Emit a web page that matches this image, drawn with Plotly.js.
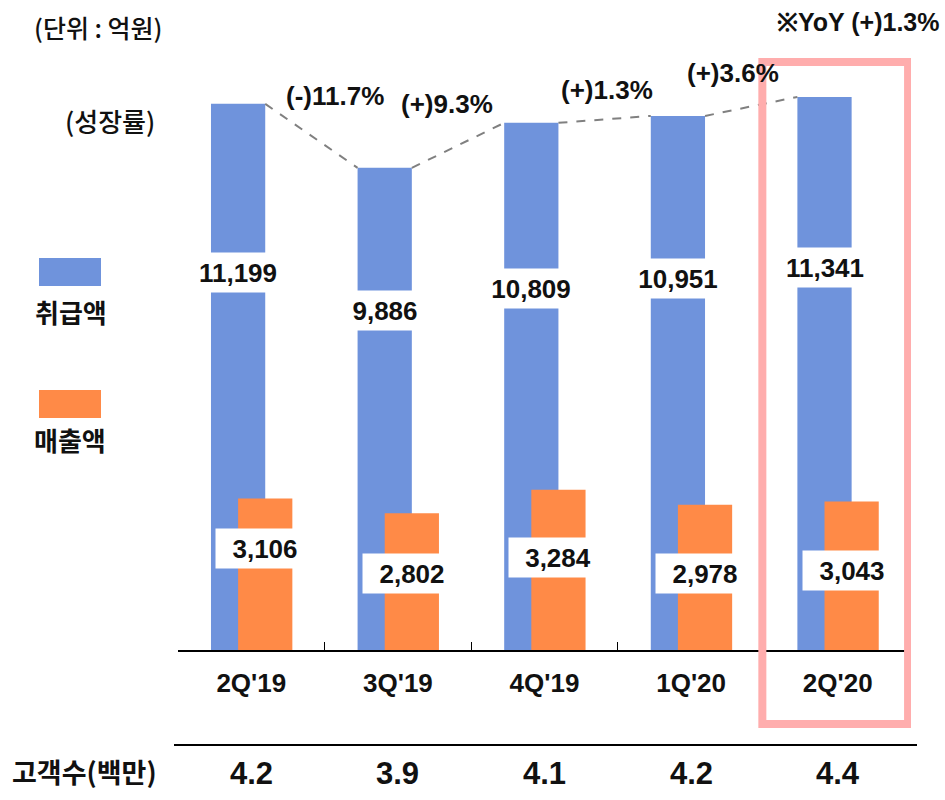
<!DOCTYPE html>
<html>
<head>
<meta charset="utf-8">
<script src="https://cdn.plot.ly/plotly-3.0.1.min.js"></script>
<style>html,body{margin:0;padding:0;background:#fff}#chart{width:945px;height:800px}</style>
</head>
<body>
<div id="chart"></div>
<script>
// ---- data ----
const quarters = ["2Q'19", "3Q'19", "4Q'19", "1Q'20", "2Q'20"];
const handling = [11199, 9886, 10809, 10951, 11341];   // 취급액
const sales = [3106, 2802, 3284, 2978, 3043];          // 매출액
const growth = ["(-)11.7%", "(+)9.3%", "(+)1.3%", "(+)3.6%"];
const yoyText = "※YoY (+)1.3%";
const customers = [4.2, 3.9, 4.1, 4.2, 4.4];           // 고객수(백만)

// ---- style / layout constants ----
const BLUE = '#6F93DC', ORANGE = '#FF8A47', PINK = '#FFADAD';
const ML = 178, MR = 34, MT = 0, MB = 150, W = 945, H = 800;
const PH = H - MT - MB;
const BAR_W = 0.37, BLUE_OFF = -0.275, ORANGE_OFF = -0.09;
const blueLabelPx = [272, 310, 288, 278, 267];
const orangeLabelPx = [548, 573, 557, 573, 570];
const growthX = [0.573, 1.337, 2.428, 3.288];
const growthPx = [96, 104, 90, 73];
const LATIN = 'Liberation Sans, Arial, sans-serif';
const KR = 'Noto Sans CJK KR, sans-serif';
const py = p => (H - MB - p) / PH;          // pixel y -> paper y
const pxX = p => (p - ML) / (W - ML - MR);  // pixel x -> paper x
const fmt = n => n.toLocaleString('en-US');

const idx = quarters.map((q, i) => i);

const traces = [
  {type: 'bar', x: quarters, y: handling, name: '취급액', marker: {color: BLUE},
   width: BAR_W, offset: BLUE_OFF, hoverinfo: 'skip'},
  {type: 'bar', x: quarters, y: sales, name: '매출액', marker: {color: ORANGE},
   width: BAR_W, offset: ORANGE_OFF, hoverinfo: 'skip'}
];

// dashed connector between tops of 취급액 bars
const lx = [], ly = [];
for (let i = 0; i < handling.length - 1; i++) {
  lx.push(idx[i] + BLUE_OFF + BAR_W, idx[i + 1] + BLUE_OFF, null);
  ly.push(handling[i], handling[i + 1], null);
}
traces.push({type: 'scatter', mode: 'lines', x: lx, y: ly, xaxis: 'x2', yaxis: 'y',
  line: {color: '#808080', width: 2, dash: 'dash'}, hoverinfo: 'skip', connectgaps: false});

const base = {showarrow: false, xanchor: 'center', yanchor: 'middle'};
const ann = [];
const box = Object.assign({}, base, {bgcolor: '#ffffff', width: 88, height: 29, borderpad: 5,
  font: {family: LATIN, size: 26, color: '#111', weight: 'bold'}});
handling.forEach((v, i) => ann.push(Object.assign({}, box, {
  xref: 'x2', yref: 'paper', x: idx[i] + BLUE_OFF + BAR_W / 2, y: py(blueLabelPx[i]), text: fmt(v)})));
sales.forEach((v, i) => ann.push(Object.assign({}, box, {
  xref: 'x2', yref: 'paper', x: idx[i] + ORANGE_OFF + BAR_W / 2, y: py(orangeLabelPx[i]), text: fmt(v)})));
growth.forEach((g, i) => ann.push(Object.assign({}, base, {xref: 'x2', yref: 'paper', x: growthX[i], y: py(growthPx[i]),
  text: g, font: {family: LATIN, size: 26, color: '#111', weight: 'bold'}})));
ann.push(Object.assign({}, base, {xref: 'x2', yref: 'paper', x: 4.14, y: py(22), text: yoyText,
  font: {family: LATIN, size: 25, color: '#111', weight: 'bold'}}));
customers.forEach((c, i) => ann.push(Object.assign({}, base, {xref: 'x2', yref: 'paper', x: idx[i], y: py(773),
  text: c.toFixed(1), font: {family: LATIN, size: 31, color: '#111', weight: 'bold'}})));
ann.push(Object.assign({}, base, {xref: 'paper', yref: 'paper', x: pxX(84), y: py(772), text: '고객수(백만)',
  font: {family: KR, size: 27, color: '#111', weight: 'bold'}}));
ann.push(Object.assign({}, base, {xref: 'paper', yref: 'paper', x: pxX(98), y: py(27), text: '(단위 : 억원)',
  font: {family: KR, size: 25, color: '#111', weight: 500}}));
ann.push(Object.assign({}, base, {xref: 'paper', yref: 'paper', x: pxX(110), y: py(120), text: '(성장률)',
  font: {family: KR, size: 26, color: '#111', weight: 500}}));
ann.push(Object.assign({}, base, {xref: 'paper', yref: 'paper', x: pxX(71), y: py(311), text: '취급액',
  font: {family: KR, size: 26, color: '#111', weight: 'bold'}}));
ann.push(Object.assign({}, base, {xref: 'paper', yref: 'paper', x: pxX(70), y: py(439), text: '매출액',
  font: {family: KR, size: 26, color: '#111', weight: 'bold'}}));

const shapes = [
  {type: 'rect', xref: 'paper', yref: 'paper', x0: pxX(39), x1: pxX(101), y0: py(286), y1: py(258),
   fillcolor: BLUE, line: {width: 0}},
  {type: 'rect', xref: 'paper', yref: 'paper', x0: pxX(39), x1: pxX(101), y0: py(418), y1: py(390),
   fillcolor: ORANGE, line: {width: 0}},
  {type: 'line', xref: 'paper', yref: 'paper', x0: pxX(174), x1: pxX(917), y0: py(745), y1: py(745),
   line: {color: '#000', width: 2}},
  {type: 'rect', xref: 'x2', yref: 'paper', x0: 3.486, x1: 4.48, y0: py(724), y1: py(62),
   line: {color: PINK, width: 8}, fillcolor: 'rgba(0,0,0,0)', layer: 'above'}
];

const layout = {
  width: W, height: H, margin: {l: ML, r: MR, t: MT, b: MB},
  paper_bgcolor: '#fff', plot_bgcolor: '#fff', showlegend: false, barmode: 'overlay',
  xaxis: {type: 'category', range: [-0.5, 4.5], showline: true, linecolor: '#000', linewidth: 2,
    ticks: 'inside', tickson: 'boundaries', ticklen: 8, tickcolor: '#000', tickwidth: 1,
    showgrid: false, zeroline: false, ticklabelstandoff: 9,
    tickfont: {family: LATIN, size: 26, color: '#111', weight: 'bold'}},
  xaxis2: {overlaying: 'x', range: [-0.5, 4.5], visible: false, type: 'linear'},
  yaxis: {range: [0, PH / 0.04877], visible: false, showgrid: false, zeroline: false},
  annotations: ann, shapes: shapes
};

Plotly.newPlot('chart', traces, layout, {staticPlot: true});
</script>
</body>
</html>
